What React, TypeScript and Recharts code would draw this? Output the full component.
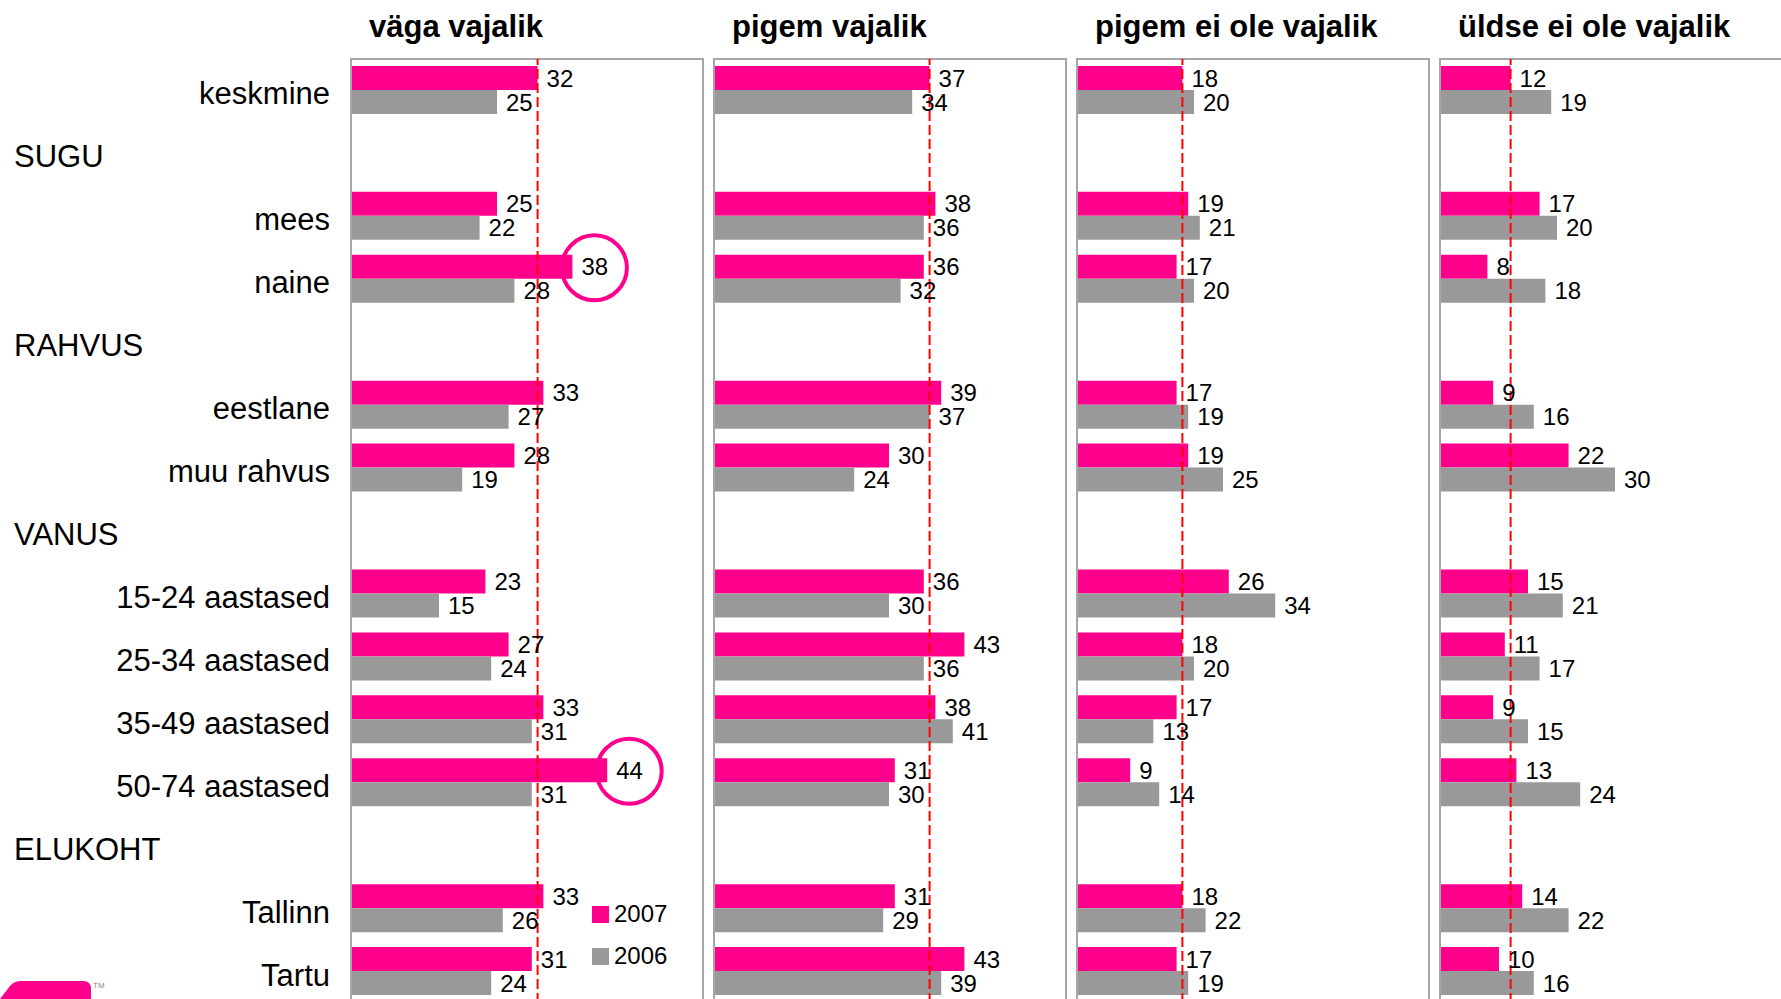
import React from 'react';
import { Bar, BarChart, LabelList, Legend, ReferenceLine, XAxis, YAxis } from 'recharts';

const FONT = 'Arial, "Liberation Sans", Helvetica, sans-serif';
const PINK = '#FF008C';
const GREY = '#999999';

const categories = [
    'keskmine',
    'SUGU',
    'mees',
    'naine',
    'RAHVUS',
    'eestlane',
    'muu rahvus',
    'VANUS',
    '15-24 aastased',
    '25-34 aastased',
    '35-49 aastased',
    '50-74 aastased',
    'ELUKOHT',
    'Tallinn',
    'Tartu',
];
const groupHeaders = ['SUGU', 'RAHVUS', 'VANUS', 'ELUKOHT'];
const panelTitles = ['väga vajalik', 'pigem vajalik', 'pigem ei ole vajalik', 'üldse ei ole vajalik'];
const seriesNames = ['2007', '2006'];

// null = group header row (no bars)
const vagaVajalik2007 = [32, null, 25, 38, null, 33, 28, null, 23, 27, 33, 44, null, 33, 31];
const vagaVajalik2006 = [25, null, 22, 28, null, 27, 19, null, 15, 24, 31, 31, null, 26, 24];
const pigemVajalik2007 = [37, null, 38, 36, null, 39, 30, null, 36, 43, 38, 31, null, 31, 43];
const pigemVajalik2006 = [34, null, 36, 32, null, 37, 24, null, 30, 36, 41, 30, null, 29, 39];
const pigemEiOle2007 = [18, null, 19, 17, null, 17, 19, null, 26, 18, 17, 9, null, 18, 17];
const pigemEiOle2006 = [20, null, 21, 20, null, 19, 25, null, 34, 20, 13, 14, null, 22, 19];
const uldseEiOle2007 = [12, null, 17, 8, null, 9, 22, null, 15, 11, 9, 13, null, 14, 10];
const uldseEiOle2006 = [19, null, 20, 18, null, 16, 30, null, 21, 17, 15, 24, null, 22, 16];

// circled 2007 values in the first panel
const highlighted2007 = ['naine', '50-74 aastased'];

const panels = [
    { s2007: vagaVajalik2007, s2006: vagaVajalik2006, circled: highlighted2007 },
    { s2007: pigemVajalik2007, s2006: pigemVajalik2006, circled: [] as string[] },
    { s2007: pigemEiOle2007, s2006: pigemEiOle2006, circled: [] as string[] },
    { s2007: uldseEiOle2007, s2006: uldseEiOle2006, circled: [] as string[] },
];

const PANEL_LEFT = [351, 714, 1077, 1440];
const PLOT_W = 348;
const AXIS_W = 352;
const TOP = 59;
const CHART_H = 1003;

const CategoryTick = (props: any) => {
    const { y, payload } = props;
    const label = payload.value as string;
    const header = groupHeaders.includes(label);
    return (
        <text
            x={header ? 14 : 330}
            y={y}
            dy={14}
            textAnchor={header ? 'start' : 'end'}
            fontSize={31}
            fontFamily={FONT}
            fill="#000"
        >
            {label}
        </text>
    );
};

// LabelList skips the null rows, so its index runs over the drawn bars only
const valueLabel = (values: (number | null)[], circled: string[]) => {
    const drawn = categories.filter((_, i) => values[i] != null);
    return (props: any) => {
        const vb = props.viewBox || props;
        const x = props.x ?? vb.x;
        const y = props.y ?? vb.y;
        const width = props.width ?? vb.width;
        const height = props.height ?? vb.height;
        const { value, index } = props;
        if (value == null || x == null) return null;
        const end = x + width;
        const cy = y + height / 2;
        const isCircled = index != null && circled.includes(drawn[index]);
        return (
            <g>
                <text x={end + 9} y={cy} dy={8.5} fontSize={24} fontFamily={FONT} fill="#000">
                    {value}
                </text>
                {isCircled && (
                    <circle cx={end + 22} cy={cy + 1} r={32.5} fill="none" stroke={PINK} strokeWidth={4} />
                )}
            </g>
        );
    };
};

const LegendBox = () => (
    <svg width={100} height={80} style={{ display: 'block' }}>
        {seriesNames.map((name, i) => (
            <g key={name}>
                <rect x={2} y={6 + i * 42} width={17} height={17} fill={i === 0 ? PINK : GREY} />
                <text x={24} y={22 + i * 42} fontSize={24} fontFamily={FONT} fill="#000">
                    {name}
                </text>
            </g>
        ))}
    </svg>
);

const Panel = ({ idx }: { idx: number }) => {
    const p = panels[idx];
    const data = categories.map((label, i) => ({ label, y2007: p.s2007[i], y2006: p.s2006[i] }));
    const first = idx === 0;
    const left = PANEL_LEFT[idx];
    const chartLeft = first ? 0 : left + 1;
    const chartW = (first ? AXIS_W : 0) + PLOT_W + 4;
    return (
        <>
            <div
                style={{
                    position: 'absolute',
                    left: left - 1,
                    top: TOP - 1,
                    width: 354,
                    height: 1000,
                    boxSizing: 'border-box',
                    border: '2px solid #A6A6A6',
                    borderBottom: 'none',
                }}
            />
            <div style={{ position: 'absolute', left: chartLeft, top: 0 }}>
                <BarChart
                    width={chartW}
                    height={CHART_H}
                    data={data}
                    layout="vertical"
                    barGap={0}
                    margin={{ top: TOP, right: 4, left: 0, bottom: 0 }}
                >
                    <XAxis type="number" domain={[0, 60]} hide />
                    {first ? (
                        <YAxis
                            type="category"
                            dataKey="label"
                            width={AXIS_W}
                            axisLine={false}
                            tickLine={false}
                            interval={0}
                            tick={<CategoryTick />}
                        />
                    ) : (
                        <YAxis type="category" dataKey="label" hide />
                    )}
                    <Bar dataKey="y2007" name="2007" fill={PINK} barSize={24} isAnimationActive={false}>
                        <LabelList dataKey="y2007" content={valueLabel(p.s2007, p.circled)} />
                    </Bar>
                    <Bar dataKey="y2006" name="2006" fill={GREY} barSize={24} isAnimationActive={false}>
                        <LabelList dataKey="y2006" content={valueLabel(p.s2006, [])} />
                    </Bar>
                    <ReferenceLine
                        x={p.s2007[0] as number}
                        stroke="#FF0000"
                        strokeWidth={2}
                        strokeDasharray="10 4"
                    />
                    {first && (
                        <Legend
                            layout="vertical"
                            align="center"
                            verticalAlign="middle"
                            wrapperStyle={{ left: 590, top: 900, width: 100 }}
                            content={<LegendBox />}
                        />
                    )}
                </BarChart>
            </div>
        </>
    );
};

export default function App() {
    return (
        <div
            style={{
                position: 'fixed',
                left: 0,
                top: 0,
                width: 1781,
                height: 999,
                overflow: 'hidden',
                background: '#fff',
                fontFamily: FONT,
            }}
        >
            {panels.map((_, i) => (
                <Panel key={i} idx={i} />
            ))}
            <svg
                width={1781}
                height={999}
                style={{ position: 'absolute', left: 0, top: 0, pointerEvents: 'none' }}
            >
                {panelTitles.map((t, i) => (
                    <text
                        key={t}
                        x={PANEL_LEFT[i] + 18}
                        y={37}
                        fontSize={31}
                        fontWeight="bold"
                        fontFamily={FONT}
                        fill="#000"
                    >
                        {t}
                    </text>
                ))}
                <path d="M0 999 L10 986 Q14 981 22 981 L83 981 Q91 981 91 989 L91 999 Z" fill={PINK} />
                <text x={93} y={988} fontSize={8} fontFamily={FONT} fill="#888">
                    TM
                </text>
            </svg>
        </div>
    );
}
